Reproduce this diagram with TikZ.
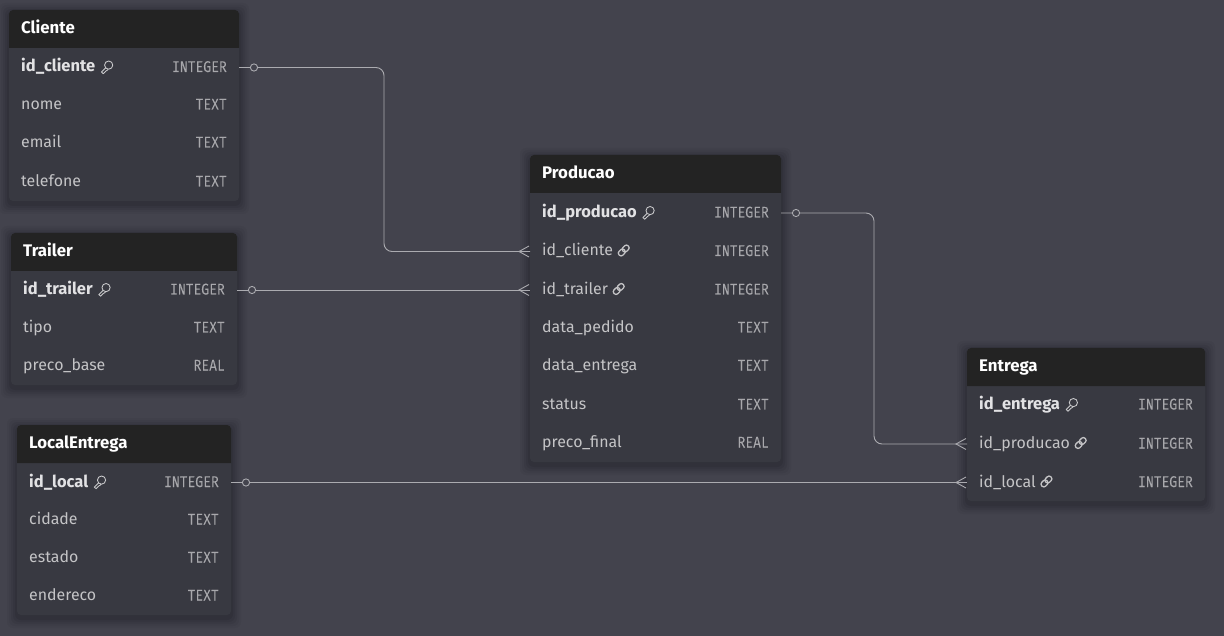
\documentclass[tikz,border=0pt]{standalone}
\usepackage{fontspec}
\setmainfont{Fira Sans}
\newfontfamily\typefont[FakeBold=0.15,FakeStretch=0.84]{Fira Mono}
\usetikzlibrary{calc}
\definecolor{bgc}{HTML}{43434D}
\definecolor{bodyc}{HTML}{383941}
\definecolor{headc}{HTML}{232323}
\definecolor{namec}{HTML}{C4C4C6}
\definecolor{boldc}{HTML}{E2E2E4}
\definecolor{typec}{HTML}{A8A8AC}
\definecolor{linec}{HTML}{ABABB0}
\tikzset{
  rowbox/.style={anchor=west,minimum height=38pt,inner sep=0pt,outer sep=0pt},
  titletext/.style={anchor=base west,inner sep=0pt,text=white,font=\fontsize{16.8}{16.8}\selectfont\bfseries},
  pktext/.style={anchor=base west,inner sep=0pt,text=boldc,font=\fontsize{16.5}{16.5}\selectfont\bfseries},
  coltext/.style={anchor=base west,inner sep=0pt,text=namec,font=\fontsize{15.9}{15.9}\selectfont},
  typetext/.style={anchor=base east,inner sep=0pt,text=typec,font=\fontsize{15.5}{15.5}\typefont},
  conn/.style={draw=linec,line width=0.9pt,rounded corners=8pt},
  endmark/.style={draw=linec,line width=0.9pt},
  keyicon/.pic={
    \draw[boldc!90!black,line width=0.85pt,line join=round] (1.2,-2.4) circle[radius=4.1];
    \draw[boldc!90!black,line width=0.85pt,line join=round] (-1.8,0.4) -- (-6,4.6) -- (-4.2,6.2) -- (-2.6,4.6) -- (-1.4,3.4) -- (0,2.6) -- (0.6,1.7);
  },
  linkicon/.pic={
    \begin{scope}[rotate=45]
      \draw[namec,line width=1.3pt,rounded corners=2.4pt] (-6.4,-2.7) rectangle (0.9,2.7);
      \draw[namec,line width=1.3pt,rounded corners=2.4pt] (-0.9,-2.7) rectangle (6.4,2.7);
    \end{scope}
  },
}
% \tbl{id}{title}{left}{top}{width}{bottom}
\newcommand{\tbl}[6]{%
  \foreach \s/\o in {10/0.035,8/0.04,6/0.05,4/0.06,2/0.07}{%
    \fill[black,opacity=\o,rounded corners=6pt] (#3-\s,#4-\s+3) rectangle (#3+#5+\s,#6+\s+3);}
  \fill[bodyc,rounded corners=4pt] (#3,#4) rectangle (#3+#5,#6);
  \fill[headc] (#3,#4+38) [rounded corners=4pt] -- (#3,#4) -- (#3+#5,#4) [sharp corners] -- (#3+#5,#4+38) -- cycle;
  \node[titletext] (#1-title) at (#3+12,#4+23.5) {#2};
}
% \trow{id}{left}{width}{y}{style}{name}{type}
\newcommand{\trow}[7]{%
  \node[rowbox,minimum width=#3pt] (#1) at (#2,#4) {};
  \node[#5] (#1-t) at (#2+12,#4+4.5) {#6};
  \node[typetext] (#1-y) at (#2+#3-12,#4+4.5) {#7};
}
\newcommand{\keyat}[1]{\pic at ($(#1-t.east |- #1.west)+(12,0)$) {keyicon};}
\newcommand{\linkat}[1]{\pic at ($(#1-t.east |- #1.west)+(10.5,-1)$) {linkicon};}
\newcommand{\one}[1]{%
  \fill[bgc] ($(#1.east)+(15,0)$) circle[radius=3.6];
  \draw[endmark] ($(#1.east)+(15,0)$) circle[radius=3.6];}
\newcommand{\crowL}[1]{\draw[endmark] ($(#1.west)+(-1,-5.5)$) -- ($(#1.west)+(-11,0)$) -- ($(#1.west)+(-1,5.5)$);}
\begin{document}
\begin{tikzpicture}[x=1pt,y=-1pt]
\useasboundingbox (0,0) rectangle (1224,636);
\fill[bgc] (0,0) rectangle (1224,636);

\tbl{cliente}{Cliente}{9}{10}{230}{201}
\trow{c1}{9}{230}{67.5}{pktext}{id\_cliente}{INTEGER}
\trow{c2}{9}{230}{105}{coltext}{nome}{TEXT}
\trow{c3}{9}{230}{143}{coltext}{email}{TEXT}
\trow{c4}{9}{230}{182}{coltext}{telefone}{TEXT}
\keyat{c1}

\tbl{trailer}{Trailer}{11}{233}{226}{385}
\trow{t1}{11}{226}{290}{pktext}{id\_trailer}{INTEGER}
\trow{t2}{11}{226}{328}{coltext}{tipo}{TEXT}
\trow{t3}{11}{226}{366}{coltext}{preco\_base}{REAL}
\keyat{t1}

\tbl{local}{LocalEntrega}{17}{425}{214}{615}
\trow{l1}{17}{214}{482.5}{pktext}{id\_local}{INTEGER}
\trow{l2}{17}{214}{520}{coltext}{cidade}{TEXT}
\trow{l3}{17}{214}{558}{coltext}{estado}{TEXT}
\trow{l4}{17}{214}{596}{coltext}{endereco}{TEXT}
\keyat{l1}

\tbl{producao}{Producao}{530}{155}{251}{462}
\trow{p1}{530}{251}{213}{pktext}{id\_producao}{INTEGER}
\trow{p2}{530}{251}{251.5}{coltext}{id\_cliente}{INTEGER}
\trow{p3}{530}{251}{290}{coltext}{id\_trailer}{INTEGER}
\trow{p4}{530}{251}{328}{coltext}{data\_pedido}{TEXT}
\trow{p5}{530}{251}{366}{coltext}{data\_entrega}{TEXT}
\trow{p6}{530}{251}{405}{coltext}{status}{TEXT}
\trow{p7}{530}{251}{443}{coltext}{preco\_final}{REAL}
\keyat{p1}\linkat{p2}\linkat{p3}

\tbl{entrega}{Entrega}{967}{348}{238}{501}
\trow{e1}{967}{238}{405}{pktext}{id\_entrega}{INTEGER}
\trow{e2}{967}{238}{444}{coltext}{id\_producao}{INTEGER}
\trow{e3}{967}{238}{482.5}{coltext}{id\_local}{INTEGER}
\keyat{e1}\linkat{e2}\linkat{e3}

\coordinate (m1) at (384,160);
\coordinate (m2) at (874,330);
\draw[conn] (c1.east) -| (m1) |- (p2.west);
\draw[conn] (t1.east) -- (p3.west);
\draw[conn] (p1.east) -| (m2) |- (e2.west);
\draw[conn] (l1.east) -- (e3.west);
\one{c1}\one{t1}\one{l1}\one{p1}
\crowL{p2}\crowL{p3}\crowL{e2}\crowL{e3}
\end{tikzpicture}
\end{document}
